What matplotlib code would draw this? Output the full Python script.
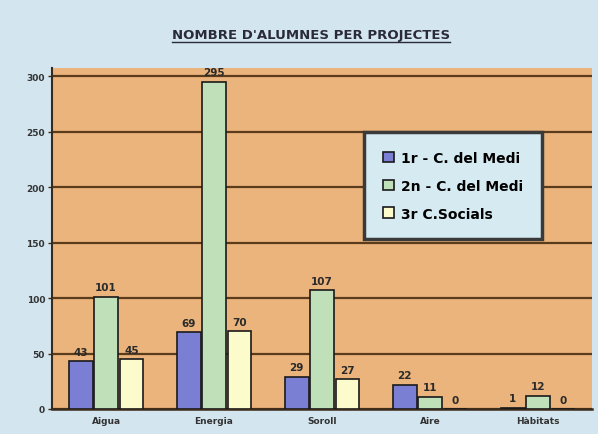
import matplotlib
matplotlib.use("Agg")
import matplotlib.pyplot as plt
import numpy as np

categories = ["Aigua", "Energia", "Soroll", "Aire", "Hàbitats"]
series_names = ["1r - C. del Medi", "2n - C. del Medi", "3r C.Socials"]
s1 = [43, 69, 29, 22, 1]
s2 = [101, 295, 107, 11, 12]
s3 = [45, 70, 27, 0, 0]
yticks = [0, 50, 100, 150, 200, 250, 300]
title = "NOMBRE D'ALUMNES PER PROJECTES"

colors = ["#7b7fd4", "#bfe0b8", "#fbfbcc"]
fig = plt.figure(figsize=(5.98, 4.35), dpi=100)
fig.patch.set_facecolor("#d3e6f0")
ax = fig.add_axes([0.087, 0.0575, 0.903, 0.783])
ax.set_facecolor("#ebb47c")

x = np.arange(len(categories))
w = 0.22
off = 0.235
for i, (vals, c) in enumerate(zip([s1, s2, s3], colors)):
    pos = x + (i - 1) * off
    ax.bar(pos, vals, w, color=c, edgecolor="#1a1a1a", linewidth=1.2,
           label=series_names[i], zorder=3)
    for p, v in zip(pos, vals):
        ax.text(p, v + 4, str(v), ha="center", va="bottom", fontsize=7.5,
                fontweight="bold", color="#2a2a2a", zorder=4)

ax.set_xlim(-0.5, len(categories) - 0.5)
ax.set_ylim(0, 307)
ax.set_yticks(yticks)
ax.set_yticklabels([str(t) for t in yticks], fontsize=6.5, fontweight="bold", color="#333333")
ax.set_xticks(x)
ax.set_xticklabels(categories, fontsize=6.5, fontweight="bold", color="#333333")
ax.tick_params(axis="x", length=0, pad=5)
ax.tick_params(axis="y", length=3, width=1, color="#3a2a1a", pad=2)
ax.yaxis.grid(True, color="#5a3c1c", linewidth=1.6, zorder=1)
for s in ["top", "right"]:
    ax.spines[s].set_visible(False)
ax.spines["left"].set_color("#3a2a1a")
ax.spines["left"].set_linewidth(1.5)
ax.spines["bottom"].set_color("#3a2a1a")
ax.spines["bottom"].set_linewidth(1.8)

leg = ax.legend(loc="upper left", bbox_to_anchor=(364 / 598, 1 - 133 / 435),
                bbox_transform=fig.transFigure, frameon=True, fancybox=False,
                prop={"weight": "bold", "size": 10}, handlelength=0.8,
                handleheight=0.8, labelspacing=1.0, borderpad=1.35,
                handletextpad=0.5, borderaxespad=0)
fr = leg.get_frame()
fr.set_facecolor("#d6eaf2")
fr.set_edgecolor("#3a3a3a")
fr.set_linewidth(2.5)
fr.set_alpha(1)

t = fig.text(0.52, 1 - 35 / 435, title, ha="center", va="center",
             fontsize=9.5, fontweight="bold", color="#2a2a3a")
fig.canvas.draw()
bb = t.get_window_extent().transformed(fig.transFigure.inverted())
fig.add_artist(plt.Line2D([bb.x0, bb.x1], [bb.y0 - 0.004, bb.y0 - 0.004],
                          color="#2a2a3a", linewidth=1.0, transform=fig.transFigure))

fig.savefig("out.png", dpi=100, facecolor=fig.get_facecolor())
